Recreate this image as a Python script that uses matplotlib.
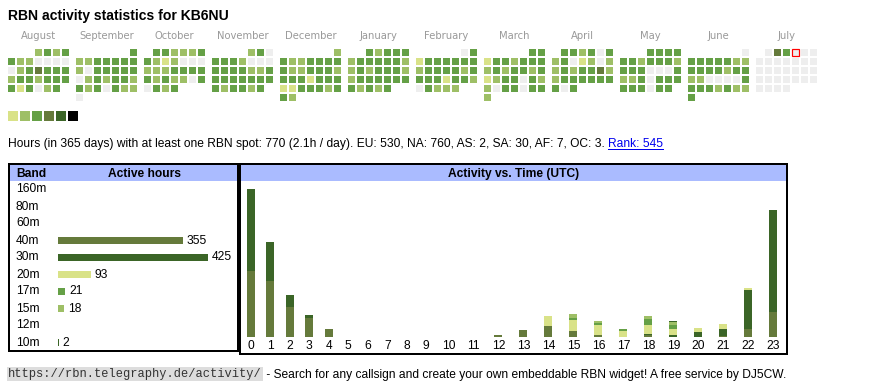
import matplotlib
matplotlib.use("Agg")
import matplotlib.pyplot as plt
import numpy as np
from matplotlib.patches import Rectangle
from matplotlib.transforms import blended_transform_factory

plt.rcParams["font.family"] = ["Liberation Sans", "DejaVu Sans"]

W, H = 870, 390
PT = 0.72  # one pixel in points at dpi 100

# ---- calendar: one digit per day, 0 = no spot, 1..5 = activity level
months = ["August", "September", "October", "November", "December", "January",
          "February", "March", "April", "May", "June", "July"]
first_column = 3  # weekday column of the first day shown
day_levels = [
    "2323" "3220000" "0234333" "2332333" "313023",
    "3" "2233333" "2033333" "0232332" "3230322" "0",
    "332223" "3212000" "2223333" "3232203" "0323",
    "230" "3332000" "3333223" "3333333" "323323",
    "2" "3223333" "3223332" "3331333" "1133323" "32",
    "32333" "2333332" "2323332" "2333333" "32323",
    "03" "1333333" "2333323" "3331332" "03222",
    "33" "1332333" "2323323" "1233032" "2033033" "2",
    "332303" "2301202" "2323342" "2333333" "303",
    "3333" "3323332" "3330003" "2230333" "333033",
    "0" "3333322" "3333233" "2200003" "3332322" "3",
    "043000" "0000000" "0000000" "0000000" "0000",
]
today_month = 11
today_day = 3

level_colors = ["#eeeeee", "#d9e288", "#9ebf66", "#65a046", "#657a3b", "#3b6527", "#000000"]
legend_levels = [1, 2, 3, 4, 5, 6]

# ---- active hours per band
bands = ["160m", "80m", "60m", "40m", "30m", "20m", "17m", "15m", "12m", "10m"]
band_hours = [0, 0, 0, 355, 425, 93, 21, 18, 0, 2]
band_colors = ["#000000", "#3b6527", "#657a3b", "#657a3b", "#3b6527", "#d9e288",
               "#65a046", "#9ebf66", "#d9e288", "#3b6527"]

# ---- activity vs. UTC hour, per band
hours = list(range(24))
hours_40m = [97, 81, 44, 28, 12, 0, 0, 0, 0, 0, 0, 0, 3, 10, 16, 9, 3, 0, 3, 0, 0, 1, 12, 36]
hours_30m = [119, 58, 17, 4, 0, 0, 0, 0, 0, 0, 0, 0, 0, 0, 0, 0, 0, 0, 1, 3, 7, 10, 57, 149]
hours_20m = [0, 0, 0, 0, 0, 0, 0, 0, 0, 0, 0, 0, 0, 0, 14, 16, 14, 9, 14, 9, 6, 8, 3, 0]
hours_17m = [0, 0, 0, 0, 0, 0, 0, 0, 0, 0, 0, 0, 0, 0, 0, 2, 3, 2, 8, 6, 0, 0, 0, 0]
hours_15m = [0, 0, 0, 0, 0, 0, 0, 0, 0, 0, 0, 0, 0, 0, 0, 6, 4, 0, 4, 4, 0, 0, 0, 0]
hours_10m = [0, 0, 0, 0, 0, 0, 0, 0, 0, 0, 0, 0, 0, 0, 0, 0, 0, 0, 0, 2, 0, 0, 0, 0]

info_text = ("Hours (in 365 days) with at least one RBN spot: 770 (2.1h / day). "
             "EU: 530, NA: 760, AS: 2, SA: 30, AF: 7, OC: 3. ")
rank_text = "Rank: 545"
url_text = "https://rbn.telegraphy.de/activity/"
footer_text = " - Search for any callsign and create your own embeddable RBN widget! A free service by DJ5CW."

fig = plt.figure(figsize=(W / 100, H / 100), dpi=100)
canvas = fig.add_axes([0, 0, 1, 1])
canvas.set_xlim(0, W)
canvas.set_ylim(H, 0)
canvas.axis("off")


def pixel_axes(x0, y0, x1, y1):
    """Axes placed by pixel corners (top-left origin)."""
    ax = fig.add_axes([x0 / W, 1 - y1 / H, (x1 - x0) / W, (y1 - y0) / H])
    ax.axis("off")
    return ax


canvas.text(8, 20, "RBN activity statistics for KB6NU", fontsize=14 * PT,
            fontweight="bold", va="baseline")

# calendar grid: columns are weekdays, rows are weeks
col = first_column
for m, (name, levels) in enumerate(zip(months, day_levels)):
    x0 = 8 + m * 68
    canvas.text(x0 + 30.5, 39, name, fontsize=10 * PT, color="#999999",
                ha="center", va="baseline", family="DejaVu Sans")
    for d, lv in enumerate(levels):
        row, c = divmod(col + d, 7)
        is_today = (m == today_month and d == today_day)
        canvas.add_patch(Rectangle((x0 + c * 9, 49 + row * 9), 7, 7,
                                   facecolor=level_colors[int(lv)],
                                   edgecolor="red" if is_today else "none",
                                   lw=1.2 * PT if is_today else 0))
    col = (col + len(levels)) % 7

for i, lv in enumerate(legend_levels):
    canvas.add_patch(Rectangle((8 + i * 12, 111), 10, 10, facecolor=level_colors[lv], lw=0))

# summary line with rank link
info = canvas.text(8, 147, info_text, fontsize=12 * PT, va="baseline")
fig.canvas.draw()
x_link = info.get_window_extent().x1
link = canvas.text(x_link, 147, rank_text, fontsize=12 * PT, va="baseline", color="#0000ee")
fig.canvas.draw()
lb = link.get_window_extent()
canvas.plot([lb.x0, lb.x1], [148.5, 148.5], color="#0000ee", lw=1 * PT)

# ---- band table
canvas.add_patch(Rectangle((9, 164), 229, 187, fill=False, ec="black", lw=2 * PT))
canvas.add_patch(Rectangle((10, 165), 227, 16, facecolor="#aabbff", lw=0))
canvas.text(16, 177, "Band", fontsize=12 * PT, fontweight="bold", va="baseline")
canvas.text(145, 177, "Active hours", fontsize=12 * PT, fontweight="bold",
            ha="center", va="baseline")

ax_band = pixel_axes(58, 181, 237, 351)
bars = ax_band.barh(range(len(bands)), band_hours, height=7 / 17, color=band_colors)
ax_band.set_xlim(0, max(band_hours) * 1.193)
ax_band.set_ylim(len(bands) - 0.5, -0.5)
ax_band.bar_label(bars, labels=[str(v) if v else "" for v in band_hours],
                  padding=2.5, fontsize=12 * PT)
band_trans = blended_transform_factory(canvas.transData, ax_band.transData)
for i, band in enumerate(bands):
    ax_band.text(16, i, band, transform=band_trans, fontsize=12 * PT, va="center")

# ---- activity vs. time table
canvas.add_patch(Rectangle((240, 164), 547, 190, fill=False, ec="black", lw=2 * PT))
canvas.add_patch(Rectangle((241, 165), 545, 16, facecolor="#aabbff", lw=0))
canvas.text(513.5, 177, "Activity vs. Time (UTC)", fontsize=12 * PT, fontweight="bold",
            ha="center", va="baseline")

hour_labels = [str(h) for h in hours]
col_widths = np.array([14 + 5.5 * len(s) for s in hour_labels])
centers = np.cumsum(col_widths) - col_widths / 2

ax_hour = pixel_axes(241, 181, 786, 337)
stack = [("40m", hours_40m), ("30m", hours_30m), ("20m", hours_20m),
         ("17m", hours_17m), ("15m", hours_15m), ("10m", hours_10m)]
bottom = np.zeros(len(hours))
for band, values in stack:
    values = np.array(values)
    ax_hour.bar(centers, values, width=8, bottom=bottom,
                color=band_colors[bands.index(band)], lw=0)
    bottom += values
ax_hour.set_xlim(0, col_widths.sum())
ax_hour.set_ylim(0, bottom.max() * 1.054)
hour_trans = blended_transform_factory(ax_hour.transData, canvas.transData)
for c, label in zip(centers, hour_labels):
    ax_hour.text(c, 346, label, transform=hour_trans, fontsize=12 * PT,
                 ha="center", va="center")

# ---- footer
url = canvas.text(8, 377, url_text, fontsize=12 * PT, family="Liberation Mono",
                  color="#333333", va="baseline",
                  bbox=dict(facecolor="#dddddd", edgecolor="none", pad=1))
fig.canvas.draw()
canvas.text(url.get_window_extent().x1 + 1, 378, footer_text, fontsize=12 * PT,
            va="baseline")

fig.savefig("out.png", dpi=100)
